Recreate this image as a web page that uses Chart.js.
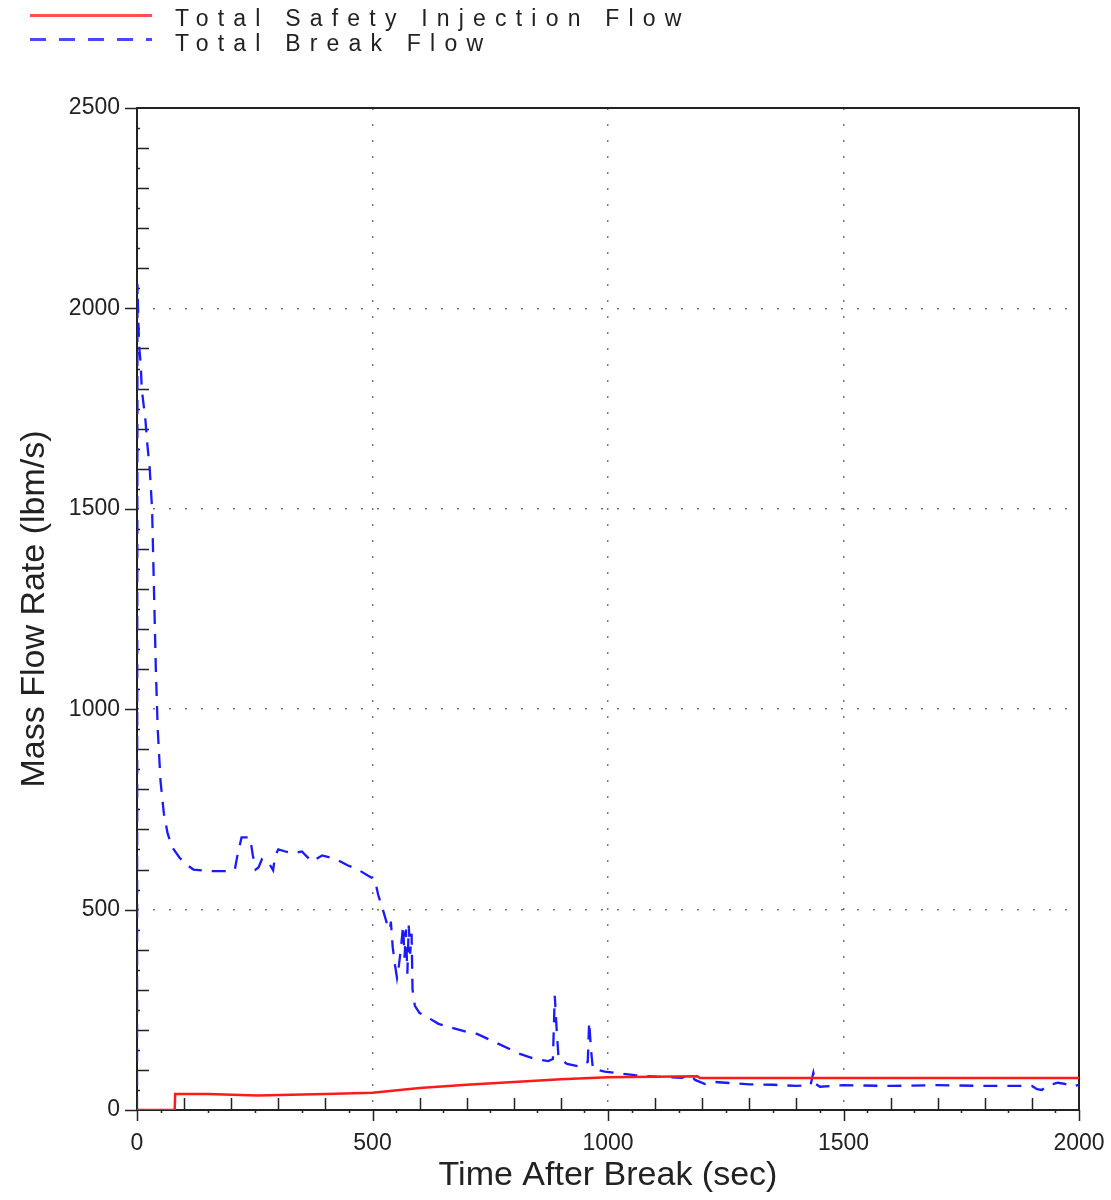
<!DOCTYPE html>
<html>
<head>
<meta charset="utf-8">
<title>Mass Flow Rate</title>
<script src="https://cdn.jsdelivr.net/npm/chart.js@4.4.0/dist/chart.umd.min.js"></script>
<style>
  body { margin: 0; background: #fff; }
  #wrap { position: relative; width: 1111px; height: 1200px; }
  .legend-row { position: absolute; left: 0; height: 26px; }
  .legend-line { position: absolute; left: 30px; width: 122px; height: 3px; }
  .legend-text {
    position: absolute; left: 175px; top: 2px; white-space: nowrap;
    font-family: 'Liberation Sans', Arial, sans-serif;
    font-size: 23px; letter-spacing: 9.2px; color: #222; line-height: 26px;
  }
</style>
</head>
<body>
<div id="wrap">
  <canvas id="flowChart" width="1111" height="1200"></canvas>
  <div class="legend-row" style="top:3px">
    <div class="legend-line" style="top:11px;background:#ff5050"></div>
    <div class="legend-text">Total Safety Injection Flow</div>
  </div>
  <div class="legend-row" style="top:28px">
    <div class="legend-line" style="top:10px;background:repeating-linear-gradient(to right,#4848ff 0 16px,transparent 16px 29px)"></div>
    <div class="legend-text">Total Break Flow</div>
  </div>
</div>
<script>
// values (time in sec, flow in lbm/s)
const breakTime = [0, 1, 3, 5, 8, 10, 14, 18, 22, 27, 32, 36, 40, 44, 50, 57, 65, 75, 90, 105, 120, 150, 200,
  208, 214, 222, 240, 246, 252, 258, 265, 270, 278, 289, 293, 300, 315, 330, 350, 371, 393, 410, 424, 448, 469,
  490, 505, 512, 520, 527, 533, 537, 539, 543, 548, 552, 556, 560, 565, 568, 571, 574, 577, 580, 583, 585, 590,
  600, 616, 640, 669, 700, 722, 813, 845, 873, 883, 887, 891, 895, 913, 940, 957, 960, 964, 968, 993, 1019,
  1057, 1104, 1157, 1174, 1185, 1206, 1227, 1250, 1300, 1350, 1400, 1430, 1436, 1441, 1450, 1500, 1600, 1700,
  1800, 1900, 1911, 1921, 1935, 1955, 1970, 1985, 2000];
const breakFlow = [0, 2060, 1960, 1900, 1860, 1800, 1760, 1720, 1660, 1600, 1500, 1300, 1100, 950, 820, 740, 690,
  655, 630, 612, 600, 596, 596,
  602, 640, 680, 680, 635, 600, 605, 625, 620, 620, 598, 634, 650, 645, 640, 645, 620, 635, 630, 625, 610, 600,
  585, 575, 537, 508, 480, 455, 450, 470, 405, 360, 330, 360, 400, 460, 380, 450, 340, 460, 390, 440, 300, 260,
  242, 232, 215, 205, 195, 190, 140, 127, 122, 127, 285, 200, 130, 115, 108, 120, 220, 150, 102, 96, 92,
  87, 83, 80, 88, 75, 65, 70, 68, 64, 63, 60, 62, 93, 65, 58, 62, 60, 62,
  60, 60, 52, 50, 62, 68, 65, 58, 63];

const siTime = [0, 80, 81, 150, 255, 400, 500, 600, 700, 800, 900, 1000, 1190, 1195, 2000];
const siFlow = [0, 0, 40, 40, 36, 40, 43, 55, 63, 70, 77, 82, 84, 80, 80];

const xTicks = [0, 500, 1000, 1500, 2000];
const yTicks = [0, 500, 1000, 1500, 2000, 2500];

const sans = "'Liberation Sans', Arial, sans-serif";

function toPoints(xs, ys) {
  return xs.map((x, i) => ({ x: x, y: ys[i] }));
}

// frame + the small tick marks of the original plot
const framePlugin = {
  id: 'frameTicks',
  beforeDatasetsDraw(chart) {
    const { ctx, chartArea: a, scales: { x, y } } = chart;
    ctx.save();
    ctx.strokeStyle = '#222';
    ctx.lineWidth = 1.5;
    ctx.beginPath();
    for (let v = 0; v <= 2500; v += 50) {
      const py = Math.round(y.getPixelForValue(v)) + 0.5;
      if (v % 500 === 0) { ctx.moveTo(a.left - 12, py); ctx.lineTo(a.left, py); }
      else if (v % 100 === 0) { ctx.moveTo(a.left, py); ctx.lineTo(a.left + 12, py); }
      else { ctx.moveTo(a.left, py); ctx.lineTo(a.left + 3, py); }
    }
    for (let v = 0; v <= 2000; v += 50) {
      const px = Math.round(x.getPixelForValue(v)) + 0.5;
      if (v % 500 === 0) { ctx.moveTo(px, a.bottom); ctx.lineTo(px, a.bottom + 11); }
      else if (v % 100 === 0) { ctx.moveTo(px, a.bottom); ctx.lineTo(px, a.bottom - 12); }
      else { ctx.moveTo(px, a.bottom); ctx.lineTo(px, a.bottom + 3); }
    }
    ctx.stroke();
    ctx.lineWidth = 2;
    ctx.strokeRect(a.left, a.top, a.right - a.left, a.bottom - a.top);
    ctx.restore();
  }
};

function gridColor(context) {
  const v = context.tick ? context.tick.value : 0;
  const max = context.scale.max;
  return (v === 0 || v === max) ? 'rgba(0,0,0,0)' : '#777';
}

function flowChart() {
  const ctx = document.getElementById('flowChart');

  const data = {
    datasets: [{
      label: 'Total Safety Injection Flow',
      data: toPoints(siTime, siFlow),
      borderColor: '#ff1a1a',
      borderWidth: 2.5,
      pointRadius: 0,
      tension: 0
    }, {
      label: 'Total Break Flow',
      data: toPoints(breakTime, breakFlow),
      borderColor: '#1a1aff',
      borderWidth: 2.3,
      borderDash: [14, 10],
      pointRadius: 0,
      tension: 0
    }]
  };

  const config = {
    type: 'line',
    data: data,
    options: {
      responsive: false,
      animation: false,
      layout: { padding: { top: 108, right: 32, left: 0, bottom: 0 } },
      plugins: {
        legend: { display: false },
        tooltip: { enabled: false }
      },
      scales: {
        x: {
          type: 'linear',
          min: 0,
          max: 2000,
          afterFit: s => { s.height = 90; s.paddingLeft = 0; s.paddingRight = 0; },
          afterBuildTicks: s => { s.ticks = xTicks.map(v => ({ value: v })); },
          ticks: {
            color: '#222', font: { family: sans, size: 23 }, padding: 20, maxRotation: 0,
            callback: v => String(v)
          },
          grid: { color: gridColor, lineWidth: 1.5, drawTicks: false },
          border: { display: false, dash: [2, 14] },
          title: {
            display: true,
            text: 'Time After Break (sec)',
            color: '#222',
            font: { family: sans, size: 34 },
            padding: { top: 0, bottom: 4 }
          }
        },
        y: {
          min: 0,
          max: 2500,
          afterFit: s => { s.width = 137; s.paddingTop = 0; s.paddingBottom = 0; },
          afterBuildTicks: s => { s.ticks = yTicks.map(v => ({ value: v })); },
          ticks: {
            color: '#222', font: { family: sans, size: 23 }, padding: 17,
            callback: v => String(v)
          },
          grid: { color: gridColor, lineWidth: 1.5, drawTicks: false },
          border: { display: false, dash: [2, 14] },
          title: {
            display: true,
            text: 'Mass Flow Rate (lbm/s)',
            color: '#222',
            font: { family: sans, size: 34 },
            padding: { top: 14, bottom: 0 }
          }
        }
      }
    },
    plugins: [framePlugin]
  };

  new Chart(ctx, config);
}

addEventListener('DOMContentLoaded', () => {
  flowChart();
});
</script>
</body>
</html>
